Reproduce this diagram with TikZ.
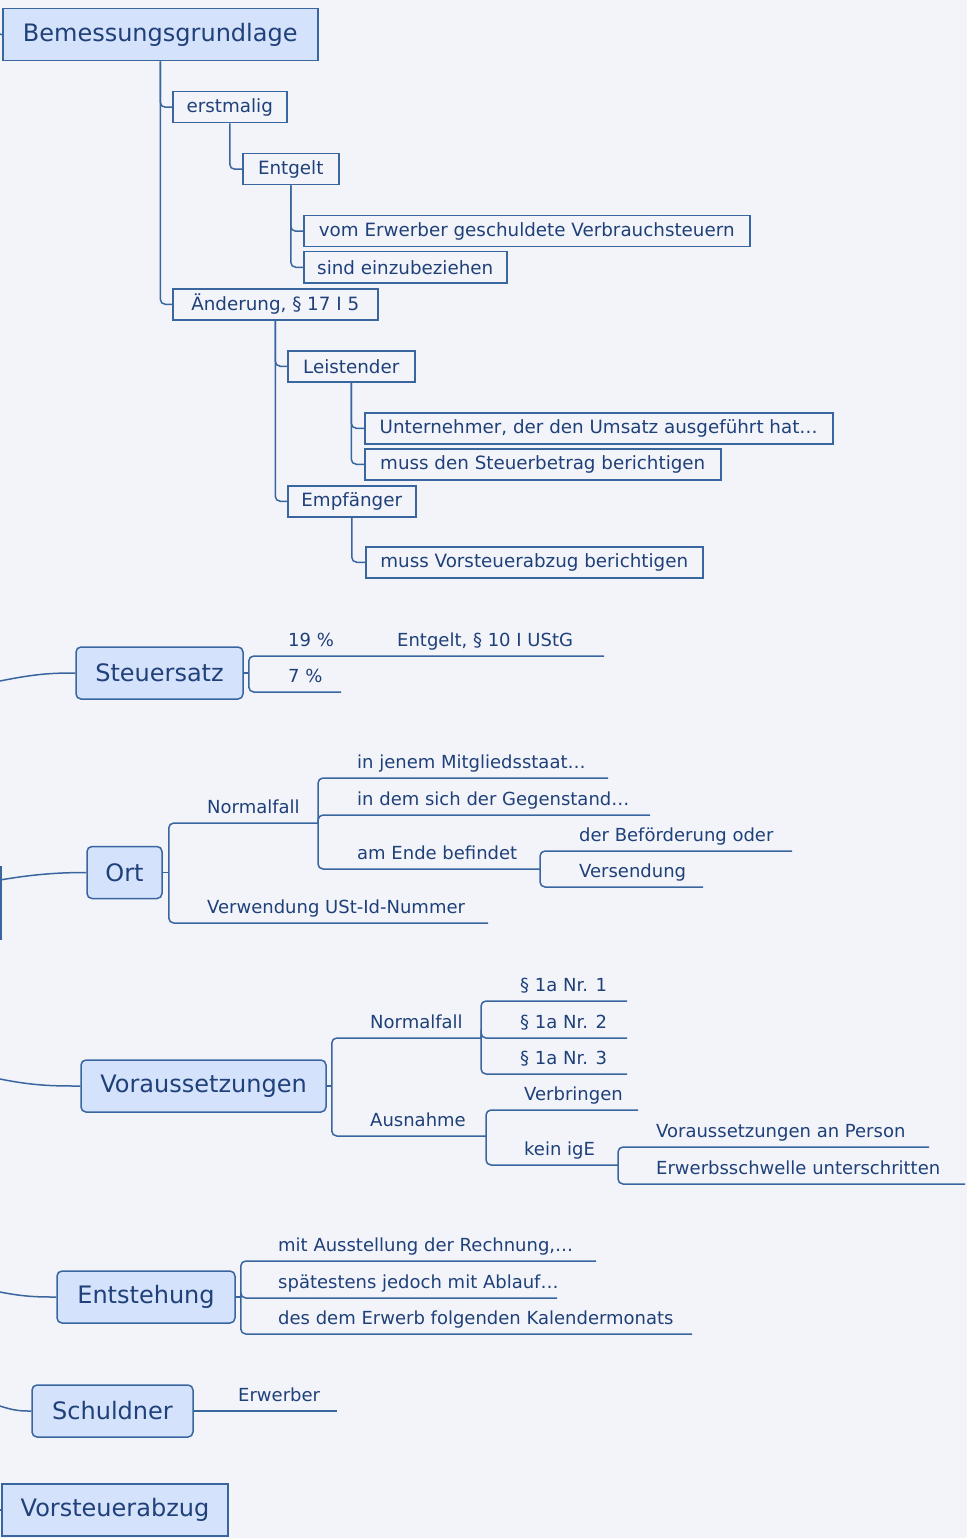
\documentclass[tikz,border=0pt]{standalone}
\usepackage{fontspec}
\setmainfont{DejaVu Sans}
\definecolor{mmline}{HTML}{3A66A0}
\definecolor{mmfill}{HTML}{D4E2FC}
\definecolor{mmtext}{HTML}{1F4078}
\definecolor{mmback}{HTML}{F2F4FA}

\begin{document}
\begin{tikzpicture}[x=1pt,y=-1pt,
    every node/.style={text=mmtext},
    conn/.style={draw=mmline,line width=1.5pt,rounded corners=5pt},
    topic/.style={draw=mmline,fill=mmfill,line width=1.5pt,minimum height=52pt,inner sep=0pt,font=\fontsize{24}{28}\selectfont},
    rtopic/.style={topic,rounded corners=5pt},
    sub/.style={draw=mmline,line width=1.5pt,minimum height=31pt,inner sep=0pt,anchor=north west,font=\fontsize{18.3}{21}\selectfont},
    twig/.style={anchor=base west,inner sep=0pt,font=\fontsize{18}{21}\selectfont}]
    \path[use as bounding box,fill=mmback] (0,0) rectangle (967,1538);

    % Bemessungsgrundlage
    \node[topic,minimum width=315pt,anchor=north west] (bem) at (2,8) {Bemessungsgrundlage};
    \node[sub,minimum width=114pt] (erst) at (172,91) {erstmalig};
    \node[sub,minimum width=96pt] (entg) at (242,153) {Entgelt};
    \node[sub,minimum width=446pt] (vom) at (303,215) {vom Erwerber geschuldete Verbrauchsteuern};
    \node[sub,minimum width=203pt] (sind) at (303,251) {sind einzubeziehen};
    \node[sub,minimum width=205pt] (aend) at (172,288) {Änderung, § 17 I 5};
    \node[sub,minimum width=127pt] (leist) at (287,350) {Leistender};
    \node[sub,minimum width=468pt] (untern) at (364,412) {Unternehmer, der den Umsatz ausgeführt hat…};
    \node[sub,minimum width=356pt] (steuerb) at (364,448) {muss den Steuerbetrag berichtigen};
    \node[sub,minimum width=128pt] (empf) at (287,485) {Empfänger};
    \node[sub,minimum width=337pt] (vorst) at (365,546) {muss Vorsteuerabzug berichtigen};
    \coordinate (r1) at (0,34);
    \draw[conn] (r1) -- (bem.west);
    \draw[conn] (bem.south) |- (erst.west);
    \draw[conn] (bem.south) |- (aend.west);
    \draw[conn] (erst.south) |- (entg.west);
    \draw[conn] (entg.south) |- (vom.west);
    \draw[conn] (entg.south) |- (sind.west);
    \draw[conn] (aend.south) |- (leist.west);
    \draw[conn] (aend.south) |- (empf.west);
    \draw[conn] (leist.south) |- (untern.west);
    \draw[conn] (leist.south) |- (steuerb.west);
    \draw[conn] (empf.south) |- (vorst.west);

    % main topics
    \node[rtopic,minimum width=167pt] (satz) at (159.5,673) {Steuersatz};
    \node[rtopic,minimum width=75pt] (ort) at (124.5,872.5) {Ort};
    \node[rtopic,minimum width=245pt] (vor) at (203.5,1086) {Voraussetzungen};
    \node[rtopic,minimum width=178pt] (entst) at (146,1297) {Entstehung};
    \node[rtopic,minimum width=161pt] (schuld) at (112.5,1411) {Schuldner};
    \node[topic,minimum width=226pt] (vabz) at (115,1510) {Vorsteuerabzug};
    \coordinate (r2) at (0,681);
    \coordinate (r3) at (0,880);
    \coordinate (r4) at (0,1079);
    \coordinate (r5) at (0,1292);
    \coordinate (r6) at (0,1406);
    \coordinate (r7) at (0,1510);
    \coordinate (trunka) at (0.8,866);
    \coordinate (trunkb) at (0.8,940);
    \draw[conn] (r2) .. controls (35,674) and (50,673) .. (satz.west);
    \draw[conn] (r3) .. controls (35,874) and (60,872.5) .. (ort.west);
    \draw[conn] (trunka) -- (trunkb);
    \draw[conn] (r4) .. controls (35,1086) and (55,1086) .. (vor.west);
    \draw[conn] (r5) .. controls (25,1297) and (40,1297) .. (entst.west);
    \draw[conn] (r6) .. controls (15,1411) and (22,1411) .. (schuld.west);
    \draw[conn] (r7) -- (vabz.west);

    % Steuersatz
    \coordinate (satzf) at ([xshift=5pt]satz.east);
    \coordinate (p19) at (604,656);
    \coordinate (p7) at (341,692);
    \draw[conn] (satz.east) -- (satzf);
    \draw[conn] (satzf) |- (p19);
    \draw[conn] (satzf) |- (p7);
    \node[twig] (t19) at (288,646) {19 \%};
    \node[twig] (tentg) at (397,646) {Entgelt, § 10 I UStG};
    \node[twig] (t7) at (288,682) {7 \%};

    % Ort
    \coordinate (ortf) at ([xshift=6pt]ort.east);
    \coordinate (onorm) at (318,823);
    \coordinate (ouid) at (488,923);
    \draw[conn] (ort.east) -- (ortf);
    \draw[conn] (ortf) |- (onorm);
    \draw[conn] (ortf) |- (ouid);
    \node[twig] (tnorm) at (207,813) {Normalfall};
    \node[twig] (tuid) at (207,913) {Verwendung USt-Id-Nummer};
    \coordinate (ojen) at (608,778);
    \coordinate (odem) at (650,815);
    \coordinate (oende) at (540,869);
    \draw[conn] (onorm) |- (ojen);
    \draw[conn] (onorm) |- (odem);
    \draw[conn] (onorm) |- (oende);
    \node[twig] (tjen) at (357,768) {in jenem Mitgliedsstaat…};
    \node[twig] (tdem) at (357,805) {in dem sich der Gegenstand…};
    \node[twig] (tende) at (357,859) {am Ende befindet};
    \coordinate (obef) at (792,851);
    \coordinate (overs) at (703,887);
    \draw[conn] (oende) |- (obef);
    \draw[conn] (oende) |- (overs);
    \node[twig] (tbef) at (579,841) {der Beförderung oder};
    \node[twig] (tvers) at (579,877) {Versendung};

    % Voraussetzungen
    \coordinate (vorf) at ([xshift=5pt]vor.east);
    \coordinate (vnorm) at (481,1038);
    \coordinate (vaus) at (486,1136);
    \draw[conn] (vor.east) -- (vorf);
    \draw[conn] (vorf) |- (vnorm);
    \draw[conn] (vorf) |- (vaus);
    \node[twig] (tvnorm) at (370,1028) {Normalfall};
    \node[twig] (tvaus) at (370,1126) {Ausnahme};
    \foreach \n/\y in {1/1001,2/1038,3/1074} {
      \coordinate (vnr\n) at (627,\y);
      \draw[conn] (vnorm) |- (vnr\n);
      \node[twig] (tnr\n) at (520,\y-10) {§ 1a Nr. \n};
    }
    \coordinate (vverb) at (638,1110);
    \coordinate (vkein) at (618,1165);
    \draw[conn] (vaus) |- (vverb);
    \draw[conn] (vaus) |- (vkein);
    \node[twig] (tverb) at (524,1100) {Verbringen};
    \node[twig] (tkein) at (524,1155) {kein igE};
    \coordinate (vpers) at (929,1147);
    \coordinate (vschw) at (965,1184);
    \draw[conn] (vkein) |- (vpers);
    \draw[conn] (vkein) |- (vschw);
    \node[twig] (tpers) at (656,1137) {Voraussetzungen an Person};
    \node[twig] (tschw) at (656,1174) {Erwerbsschwelle unterschritten};

    % Entstehung
    \coordinate (entf) at ([xshift=5pt]entst.east);
    \coordinate (erech) at (596,1261);
    \coordinate (eabl) at (557,1298);
    \coordinate (ekal) at (692,1334);
    \draw[conn] (entst.east) -- (entf);
    \draw[conn] (entf) |- (erech);
    \draw[conn] (entf) |- (eabl);
    \draw[conn] (entf) |- (ekal);
    \node[twig] (trech) at (278,1251) {mit Ausstellung der Rechnung,…};
    \node[twig] (tabl) at (278,1288) {spätestens jedoch mit Ablauf…};
    \node[twig] (tkal) at (278,1324) {des dem Erwerb folgenden Kalendermonats};

    % Schuldner
    \coordinate (serw) at (337,1411);
    \draw[conn] (schuld.east) -- (serw);
    \node[twig] (terw) at (238,1401) {Erwerber};
\end{tikzpicture}
\end{document}
